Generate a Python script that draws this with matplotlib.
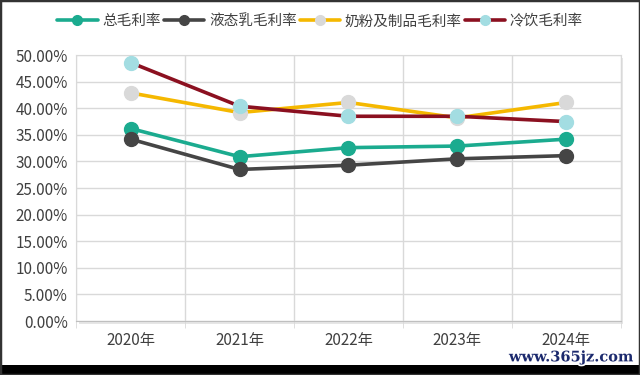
import numpy as np
import matplotlib
matplotlib.use('Agg')
from matplotlib import pyplot as plt
from matplotlib.patches import Rectangle
import matplotlib.patheffects as pe
from matplotlib.ticker import FuncFormatter, MultipleLocator

plt.rcParams['font.family'] = ['Noto Sans CJK SC', 'DejaVu Sans']

years = ['2020年', '2021年', '2022年', '2023年', '2024年']
total_margin = [36.2, 30.9, 32.6, 32.9, 34.2]
liquid_milk = [34.2, 28.5, 29.3, 30.5, 31.1]
milk_powder = [42.9, 39.2, 41.1, 38.2, 41.1]
ice_cream = [48.6, 40.4, 38.5, 38.5, 37.5]

series = [
    ('总毛利率', total_margin, '#1bab8f', '#1bab8f'),
    ('液态乳毛利率', liquid_milk, '#454545', '#454545'),
    ('奶粉及制品毛利率', milk_powder, '#f5b800', '#d9d9d9'),
    ('冷饮毛利率', ice_cream, '#8b1020', '#a3dde2'),
]

fig = plt.figure(figsize=(6.4, 3.75), dpi=100)
ax = fig.add_axes([0.119, 0.144, 0.851, 0.709])

x = np.arange(len(years))
handles = []
for i, (name, vals, lc, mc) in enumerate(series):
    h, = ax.plot(x, vals, color=lc, lw=2.6, marker='o', markersize=10,
                 markerfacecolor=mc, markeredgecolor=mc, label=name,
                 zorder=3 + i, solid_capstyle='round')
    handles.append(h)

ax.set_xlim(-0.5, 4.5)
ax.set_ylim(0, 50)
ax.yaxis.set_major_locator(MultipleLocator(5))
ax.yaxis.set_major_formatter(FuncFormatter(lambda v, p: '{:.2f}%'.format(v)))
ax.set_xticks(x)
ax.set_xticklabels(years)
ax.set_xticks(np.arange(-0.5, 5.0, 1.0), minor=True)
ax.grid(True, axis='y', color='#d9d9d9', lw=1)
ax.grid(True, axis='x', which='minor', color='#d9d9d9', lw=1)
ax.tick_params(axis='x', which='major', length=0, pad=8, labelsize=11, colors='#404040')
ax.tick_params(axis='x', which='minor', length=5, color='#d9d9d9')
ax.tick_params(axis='y', length=0, pad=6, labelsize=11, colors='#404040')
for s in ['top', 'right', 'left']:
    ax.spines[s].set_color('#d9d9d9')
ax.spines['bottom'].set_color('#bfbfbf')
ax.set_axisbelow(True)

# soft shadow of plot area
fig.patches.append(Rectangle((0.119 + 0.004, 0.144 - 0.007), 0.851, 0.709,
                             transform=fig.transFigure, facecolor='#e6e6e6',
                             edgecolor='none', zorder=-2))
ax.set_facecolor('white')

fig.legend(handles=handles, loc='center', bbox_to_anchor=(0.5, 0.943), ncol=4,
           frameon=False, fontsize=10.5, handlelength=2.8, handletextpad=0.3,
           columnspacing=0.2, labelcolor='#404040', markerscale=0.7)

# screenshot frame
fig.patches.append(Rectangle((0, 0), 1, 0.028, transform=fig.transFigure,
                             facecolor='black', edgecolor='none', zorder=5))
fig.patches.append(Rectangle((0.0, 0.0), 1, 1, transform=fig.transFigure,
                             facecolor='none', edgecolor='#333333', lw=2.5, zorder=5))

fig.text(0.99, 0.047, 'www.365jz.com', ha='right', va='center', fontsize=10.5,
         family='DejaVu Serif', weight='bold', color='#1c2a6e', zorder=6,
         path_effects=[pe.withStroke(linewidth=2.5, foreground='white')])

fig.savefig('out.png', dpi=100)
